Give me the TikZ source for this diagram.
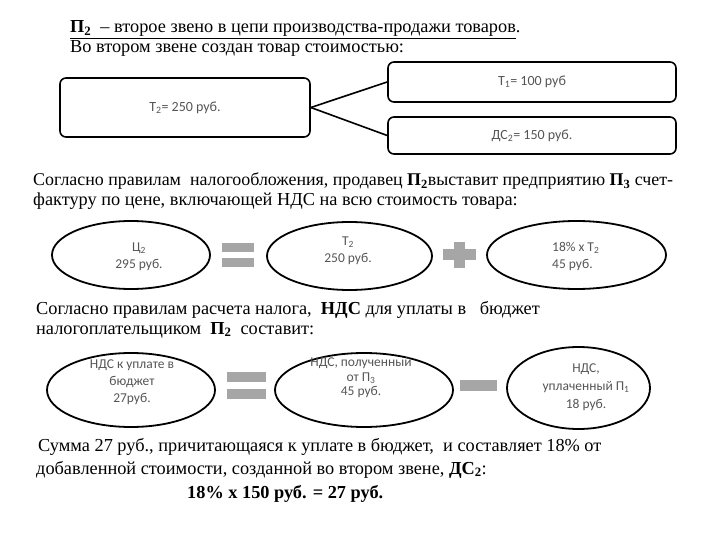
\documentclass[tikz,border=0pt]{standalone}
\usepackage{fontspec}
\setmainfont{Liberation Serif}
\newfontfamily\boxfont{Carlito}
\usetikzlibrary{shapes.geometric}
\definecolor{opgray}{HTML}{A6A6A6}
\definecolor{boxtext}{HTML}{555555}
\begin{document}
\begin{tikzpicture}[x=1pt,y=-1pt,
  para/.style={anchor=base west, inner sep=0pt, font=\fontsize{18.3}{21}\selectfont},
  rbox/.style={draw, line width=1.6pt, rounded corners=6pt, inner sep=0pt,
               font=\boxfont\fontsize{14}{17}\selectfont, text=boxtext},
  oval/.style={draw, ellipse, line width=1.8pt, inner sep=0pt},
  btext/.style={font=\boxfont\fontsize{13.5}{17}\selectfont, text=boxtext, align=center, inner sep=0pt},
  link/.style={line width=1.6pt},
  opfill/.style={fill=opgray, draw=none}]
\useasboundingbox (0,0) rectangle (720,540);

% heading
\node[para] (l1) at (70,33) {\underline{\textbf{П\textsubscript{2}}\ \ – второе звено в цепи производства-продажи товаров}.};
\node[para] (l2) at (70,53) {Во втором звене создан товар стоимостью:};

% boxes
\node[rbox, minimum width=250pt, minimum height=59pt] (t2) at (185,107.5) {Т\textsubscript{2}= 250 руб.};
\node[rbox, minimum width=288pt, minimum height=40pt] (t1) at (532,82) {Т\textsubscript{1}= 100 руб};
\node[rbox, minimum width=288pt, minimum height=37pt] (dc) at (532,135.5) {ДС\textsubscript{2}= 150 руб.};
\draw[link] (t2.east) -- (t1.west);
\draw[link] (t2.east) -- (dc.west);

% paragraph 2
\node[para, font=\fontsize{17.9}{21}\selectfont] (p2a) at (33,186) {Согласно правилам\ \ налогообложения, продавец \textbf{П\textsubscript{2}}выставит предприятию \textbf{П\textsubscript{3}} счет-};
\node[para] (p2b) at (33,206) {фактуру по цене, включающей НДС на всю стоимость товара:};

% row 1 ellipses
\node[oval, minimum width=158pt, minimum height=68pt] (e1) at (131,255) {};
\node[btext] (e1t) at (139,257) {Ц\textsubscript{2}\\295 руб.};
\fill[opfill] (222,243) rectangle (254,252);
\fill[opfill] (222,258) rectangle (254,267);
\node[oval, minimum width=165pt, minimum height=68pt] (e2) at (349.5,256) {};
\node[btext] (e2t) at (348,251) {Т\textsubscript{2}\\250 руб.};
\fill[opfill] (443,249) rectangle (476,260);
\fill[opfill] (454,242) rectangle (465,268);
\node[oval, minimum width=179pt, minimum height=68pt] (e3) at (576.5,255) {};
\node[btext, align=left, anchor=west] (e3t) at (552,256) {18\% х Т\textsubscript{2}\\45 руб.};

% paragraph 3
\node[para] (p3a) at (36,314) {Согласно правилам расчета налога, \ \textbf{НДС} для уплаты в \ \ бюджет};
\node[para] (p3b) at (36,334) {налогоплательщиком \ \textbf{П\textsubscript{2}} \ составит:};

% row 2 ellipses
\node[oval, minimum width=168pt, minimum height=74pt] (f1) at (131,390) {};
\node[btext] (f1t) at (132,382) {НДС к уплате в\\бюджет\\27руб.};
\fill[opfill] (227,372) rectangle (266,382);
\fill[opfill] (227,389) rectangle (266,399);
\node[oval, minimum width=178pt, minimum height=74pt] (f2) at (364,390) {};
\node[btext, font=\boxfont\fontsize{13.5}{14.5}\selectfont] (f2t) at (361,378) {НДС, полученный\\от П\textsubscript{3}\\45 руб.};
\fill[opfill] (460,380) rectangle (497,391);
\node[oval, minimum width=143pt, minimum height=82pt] (f3) at (578.5,388) {};
\node[btext, font=\boxfont\fontsize{13.5}{18}\selectfont] (f3t) at (586,387) {НДС,\\уплаченный П\textsubscript{1}\\18 руб.};

% paragraph 4
\node[para] (p4a) at (38,451) {Сумма 27 руб., причитающаяся к уплате в бюджет, \ и составляет 18\% от};
\node[para] (p4b) at (36,474) {добавленной стоимости, созданной во втором звене, \textbf{ДС\textsubscript{2}}:};
\node[para] (p4c) at (187,498) {\textbf{18\% х 150 руб. = 27 руб.}};
\end{tikzpicture}
\end{document}
